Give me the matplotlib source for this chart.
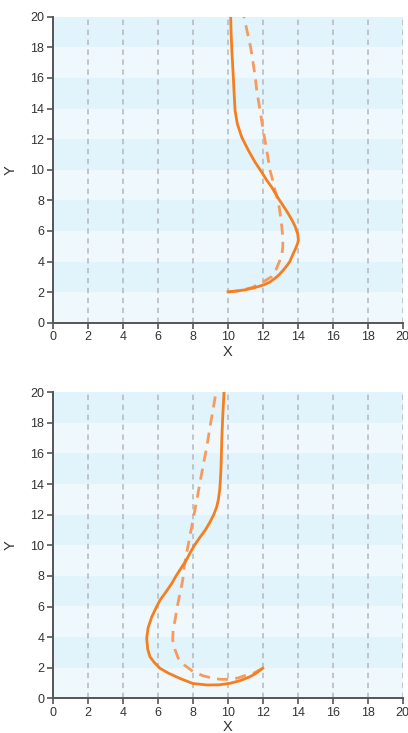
import matplotlib
matplotlib.use("Agg")
import matplotlib.pyplot as plt

plt.rcParams['font.family'] = ['Liberation Sans', 'DejaVu Sans']

# Top panel
top_solid_x = [10.02, 10.5, 11.0, 11.5, 12.03, 12.4, 12.7, 12.95, 13.18, 13.4, 13.55, 13.75, 13.9, 14.0, 14.04, 14.0, 13.85, 13.7, 13.5, 13.2, 12.9, 12.51, 12.23, 12.0, 11.56, 11.18, 10.8, 10.55, 10.42, 10.36, 10.3, 10.25, 10.2, 10.17]
top_solid_y = [2.02, 2.07, 2.15, 2.28, 2.46, 2.65, 2.9, 3.15, 3.44, 3.75, 4.0, 4.53, 4.9, 5.2, 5.4, 5.8, 6.3, 6.65, 7.05, 7.6, 8.11, 8.87, 9.31, 9.74, 10.5, 11.27, 12.13, 13.0, 13.87, 15.18, 16.5, 17.5, 18.8, 20.0]
top_dash_x = [10.0, 10.7, 11.4, 12.03, 12.5, 12.75, 12.95, 13.1, 13.15, 13.15, 13.08, 13.0, 12.92, 12.84, 12.7, 12.57, 12.42, 12.23, 12.03, 11.85, 11.66, 11.58, 11.45, 11.31, 11.12, 10.93]
top_dash_y = [2.0, 2.1, 2.3, 2.67, 3.0, 3.45, 3.98, 4.5, 4.96, 5.6, 6.37, 7.1, 7.7, 8.11, 8.66, 9.31, 9.96, 11.27, 12.57, 13.87, 15.18, 16.0, 17.0, 18.0, 19.0, 20.0]

# Bottom panel
bot_solid_x = [12.0, 11.6, 11.27, 10.7, 10.13, 9.5, 8.8, 8.0, 7.27, 6.6, 6.13, 5.8, 5.56, 5.43, 5.37, 5.45, 5.66, 5.9, 6.13, 6.5, 6.8, 7.05, 7.33, 7.62, 7.85, 8.1, 8.4, 8.72, 8.98, 9.2, 9.37, 9.47, 9.54, 9.58, 9.62, 9.66, 9.72, 9.79]
bot_solid_y = [1.96, 1.62, 1.41, 1.15, 0.98, 0.88, 0.87, 0.97, 1.3, 1.65, 1.96, 2.35, 2.71, 3.2, 3.91, 4.6, 5.32, 5.9, 6.41, 7.0, 7.5, 8.0, 8.5, 9.0, 9.5, 10.0, 10.5, 11.0, 11.5, 12.0, 12.5, 13.0, 13.6, 14.2, 15.1, 16.85, 18.5, 20.0]
bot_dash_x = [12.0, 11.5, 11.08, 10.6, 10.13, 9.6, 9.18, 8.6, 8.03, 7.55, 7.18, 6.98, 6.86, 6.88, 6.99, 7.12, 7.27, 7.43, 7.5, 7.62, 7.94, 8.23, 8.51, 8.8, 9.03, 9.33]
bot_dash_y = [1.96, 1.65, 1.52, 1.33, 1.24, 1.24, 1.3, 1.47, 1.74, 2.15, 2.61, 3.2, 3.8, 4.5, 5.1, 6.0, 6.85, 7.72, 8.5, 9.3, 11.19, 12.94, 14.68, 16.41, 18.0, 20.0]

ticks = list(range(0, 21, 2))
x_label = "X"
y_label = "Y"

SOLID = "#f47f20"
DASH = "#f79a5e"
BAND_DARK = "#e1f3fb"
BAND_LIGHT = "#eff8fd"
GRID = "#b4b8bc"
AX = "#555555"
TXT = "#333333"

fig = plt.figure(figsize=(4.08, 7.33), dpi=100)
left, width = 52.7 / 408, 350 / 408
h = 306 / 733
ax1 = fig.add_axes([left, 1 - 322.7 / 733, width, h])
ax2 = fig.add_axes([left, 1 - 698.3 / 733, width, h])

panels = [(ax1, top_solid_x, top_solid_y, top_dash_x, top_dash_y),
          (ax2, bot_solid_x, bot_solid_y, bot_dash_x, bot_dash_y)]

for ax, sx, sy, dx, dy in panels:
    ax.set_xlim(0, 20)
    ax.set_ylim(0, 20)
    for i in range(10):
        ax.axhspan(2 * i, 2 * i + 2, color=BAND_DARK if i % 2 == 1 else BAND_LIGHT, lw=0, zorder=0)
    for t in ticks[1:]:
        ax.axvline(t, color=GRID, lw=1.1, ls=(0, (3.5, 3)), zorder=1)
    ax.plot(dx, dy, color=DASH, lw=2, ls=(0, (4, 2.6)), zorder=3, solid_capstyle='butt')
    ax.plot(sx, sy, color=SOLID, lw=2, zorder=4, solid_joinstyle='round')
    ax.set_xticks(ticks)
    ax.set_yticks(ticks)
    for s in ['top', 'right']:
        ax.spines[s].set_visible(False)
    for s in ['left', 'bottom']:
        ax.spines[s].set_color(AX)
        ax.spines[s].set_linewidth(1.4)
    ax.tick_params(direction='out', length=4, width=1.2, color=AX, labelcolor=TXT, labelsize=9, pad=2)
    ax.set_xlabel(x_label, fontsize=10.5, color=TXT)
    ax.set_ylabel(y_label, fontsize=10.5, color=TXT)
    ax.xaxis.set_label_coords(0.5, -0.072)
    ax.yaxis.set_label_coords(-0.100, 0.5)
    ax.set_facecolor("white")

fig.savefig("out.png", dpi=100)
